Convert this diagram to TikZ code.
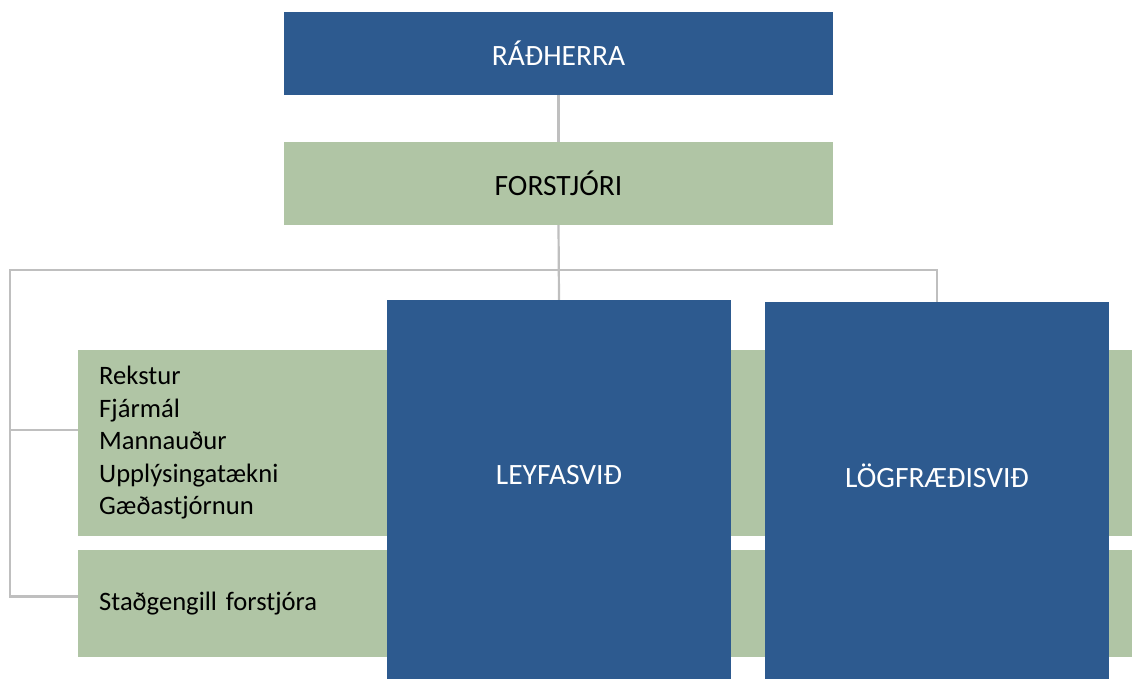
\documentclass[tikz,border=0pt]{standalone}
\usepackage{fontspec}
\setmainfont{Carlito}
\definecolor{boxblue}{RGB}{45,90,143}
\definecolor{boxgreen}{RGB}{176,197,165}
\definecolor{linegray}{RGB}{191,191,191}
\begin{document}
\begin{tikzpicture}[x=1pt, y=-1pt,
    bluebox/.style={rectangle, fill=boxblue, text=white, inner sep=0pt, font=\fontsize{29.5}{34}\selectfont},
    greenbox/.style={rectangle, fill=boxgreen, text=black, inner sep=0pt, font=\fontsize{29.5}{34}\selectfont},
    listbox/.style={rectangle, fill=boxgreen, text=black, anchor=west, inner xsep=21pt, inner ysep=0pt, align=left, font=\fontsize{26.6}{32.5}\selectfont},
    conn/.style={draw=linegray, line width=2.2pt}]
\useasboundingbox (0, 0) rectangle (1132, 679);

% Top of the chart
\node[bluebox, minimum width=549, minimum height=83] (rad) at (558.5, 53.5) {RÁÐHERRA};
\node[greenbox, minimum width=549, minimum height=83] (forst) at (558.5, 183.5) {FORSTJÓRI};

% Green bands behind the divisions
\node[listbox, minimum height=186, text width=1012] (rekst) at (78, 443) {Rekstur\\Fjármál\\Mannauður\\Upplýsingatækni\\Gæðastjórnun};
\node[listbox, minimum height=107, text width=1012] (stadg) at (78, 603.5) {Staðgengill forstjóra};

% Divisions
\node[bluebox, minimum width=344, minimum height=379] (leyf) at (559, 489.5) {};
\node[bluebox] (leyft) at ([yshift=14]leyf.center) {LEYFASVIÐ};
\node[bluebox, minimum width=344, minimum height=377] (logf) at (937, 490.5) {};
\node[bluebox] (logft) at ([yshift=15]logf.center) {LÖGFRÆÐISVIÐ};

% Connectors
\coordinate (busL) at (10, 270);
\draw[conn] (rad.south) -- (forst.north);
\draw[conn] (forst.south) -- (leyf.north);
\draw[conn] (logf.north) |- (busL) |- ([yshift=13]rekst.west);
\draw[conn] (busL) |- ([yshift=7]stadg.west);
\end{tikzpicture}
\end{document}
